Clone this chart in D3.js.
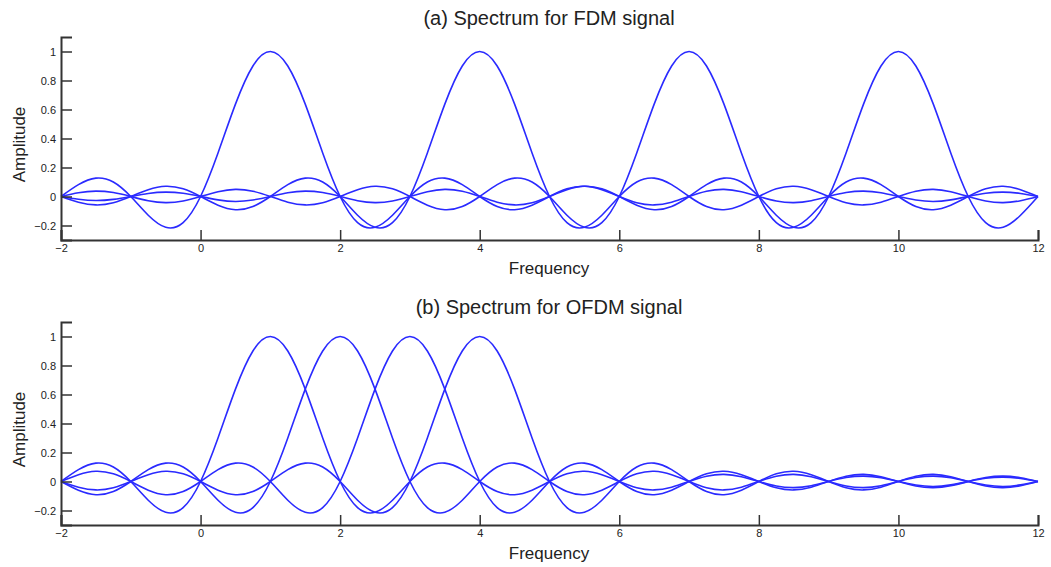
<!DOCTYPE html>
<html>
<head>
<meta charset="utf-8">
<script src="https://cdn.jsdelivr.net/npm/d3@7"></script>
<style>
  body { margin: 0; background: #fff; }
  svg { display: block; font-family: "Liberation Sans", Arial, sans-serif; }
</style>
</head>
<body>
<div id="chart"></div>
<script>
// x axis ticks and y axis ticks
const freqTicks = [-2, 0, 2, 4, 6, 8, 10, 12];
const ampTicks = [-0.2, 0, 0.2, 0.4, 0.6, 0.8, 1];

// carrier centre frequencies for each panel
const fdmCarriers = [1, 4, 7, 10];
const ofdmCarriers = [1, 2, 3, 4];

// pulse shape, offsets 0, 0.25, 0.5 ... 12 from the carrier
const pulseStep = 0.25;
const pulseShape = [
  1, 0.900, 0.637, 0.300,
  0, -0.180, -0.212, -0.129,
  0, 0.100, 0.127, 0.082,
  0, -0.069, -0.091, -0.060,
  0, 0.053, 0.071, 0.047,
  0, -0.043, -0.058, -0.039,
  0, 0.036, 0.049, 0.033,
  0, -0.031, -0.042, -0.029,
  0, 0.027, 0.037, 0.026,
  0, -0.024, -0.034, -0.023,
  0, 0.022, 0.030, 0.021,
  0, -0.020, -0.028, -0.019,
  0
];

const panels = [
  {title: "(a) Spectrum for FDM signal", carriers: fdmCarriers, top: 37, titleY: 25},
  {title: "(b) Spectrum for OFDM signal", carriers: ofdmCarriers, top: 322, titleY: 314}
];

const W = 1051, H = 567;
const left = 61, right = 1038, plotH = 203;
const lineColor = "#2a2aff";
const axisColor = "#333";

const svg = d3.select("#chart").append("svg")
    .attr("width", W)
    .attr("height", H);

svg.append("rect").attr("width", W).attr("height", H).attr("fill", "#fff");

const x = d3.scaleLinear().domain([-2, 12]).range([left, right]);

// build a curve for one carrier from the pulse shape
function carrierPoints(fc) {
  const pts = [];
  const n = Math.round((12 - (-2)) / pulseStep);
  for (let i = 0; i <= n; i++) {
    const f = -2 + i * pulseStep;
    const k = Math.round(Math.abs(f - fc) / pulseStep);
    pts.push([f, pulseShape[k]]);
  }
  return pts;
}

panels.forEach(function(p) {
  const y = d3.scaleLinear().domain([-0.3, 1.1]).range([p.top + plotH, p.top]);
  const g = svg.append("g");

  // Curves
  const line = d3.line()
      .x(function(d) { return x(d[0]); })
      .y(function(d) { return y(d[1]); })
      .curve(d3.curveNatural);

  g.selectAll(".carrier")
      .data(p.carriers)
      .enter().append("path")
      .attr("class", "carrier")
      .attr("fill", "none")
      .attr("stroke", lineColor)
      .attr("stroke-width", 1.6)
      .attr("d", function(fc) { return line(carrierPoints(fc)); });

  // Axes (ticks drawn inwards, matlab style)
  const xAxis = d3.axisBottom(x).tickValues(freqTicks).tickSize(-10).tickPadding(4)
      .tickFormat(d3.format("d"));
  const gx = g.append("g")
      .attr("transform", "translate(0," + (p.top + plotH) + ")")
      .call(xAxis);

  const yAxis = d3.axisLeft(y).tickValues(ampTicks).tickSize(-11).tickPadding(5)
      .tickFormat(function(d) { return d3.format("")(+d.toFixed(1)); });
  const gy = g.append("g")
      .attr("transform", "translate(" + left + ",0)")
      .call(yAxis);

  [gx, gy].forEach(function(a) {
    a.select(".domain").attr("stroke", axisColor).attr("stroke-width", 2);
    a.selectAll(".tick line").attr("stroke", axisColor).attr("stroke-width", 1.5);
    a.selectAll(".tick text").attr("fill", "#222").style("font-size", "11px");
  });

  // Titles
  g.append("text")
      .attr("x", 549)
      .attr("y", p.titleY)
      .attr("text-anchor", "middle")
      .attr("fill", "#222")
      .style("font-size", "20px")
      .text(p.title);

  g.append("text")
      .attr("x", 549)
      .attr("y", p.top + plotH + 34)
      .attr("text-anchor", "middle")
      .attr("fill", "#222")
      .style("font-size", "17px")
      .text("Frequency");

  g.append("text")
      .attr("transform", "translate(25," + (p.top + plotH / 2 + 6) + ") rotate(-90)")
      .attr("text-anchor", "middle")
      .attr("fill", "#222")
      .style("font-size", "17px")
      .text("Amplitude");
});
</script>
</body>
</html>
